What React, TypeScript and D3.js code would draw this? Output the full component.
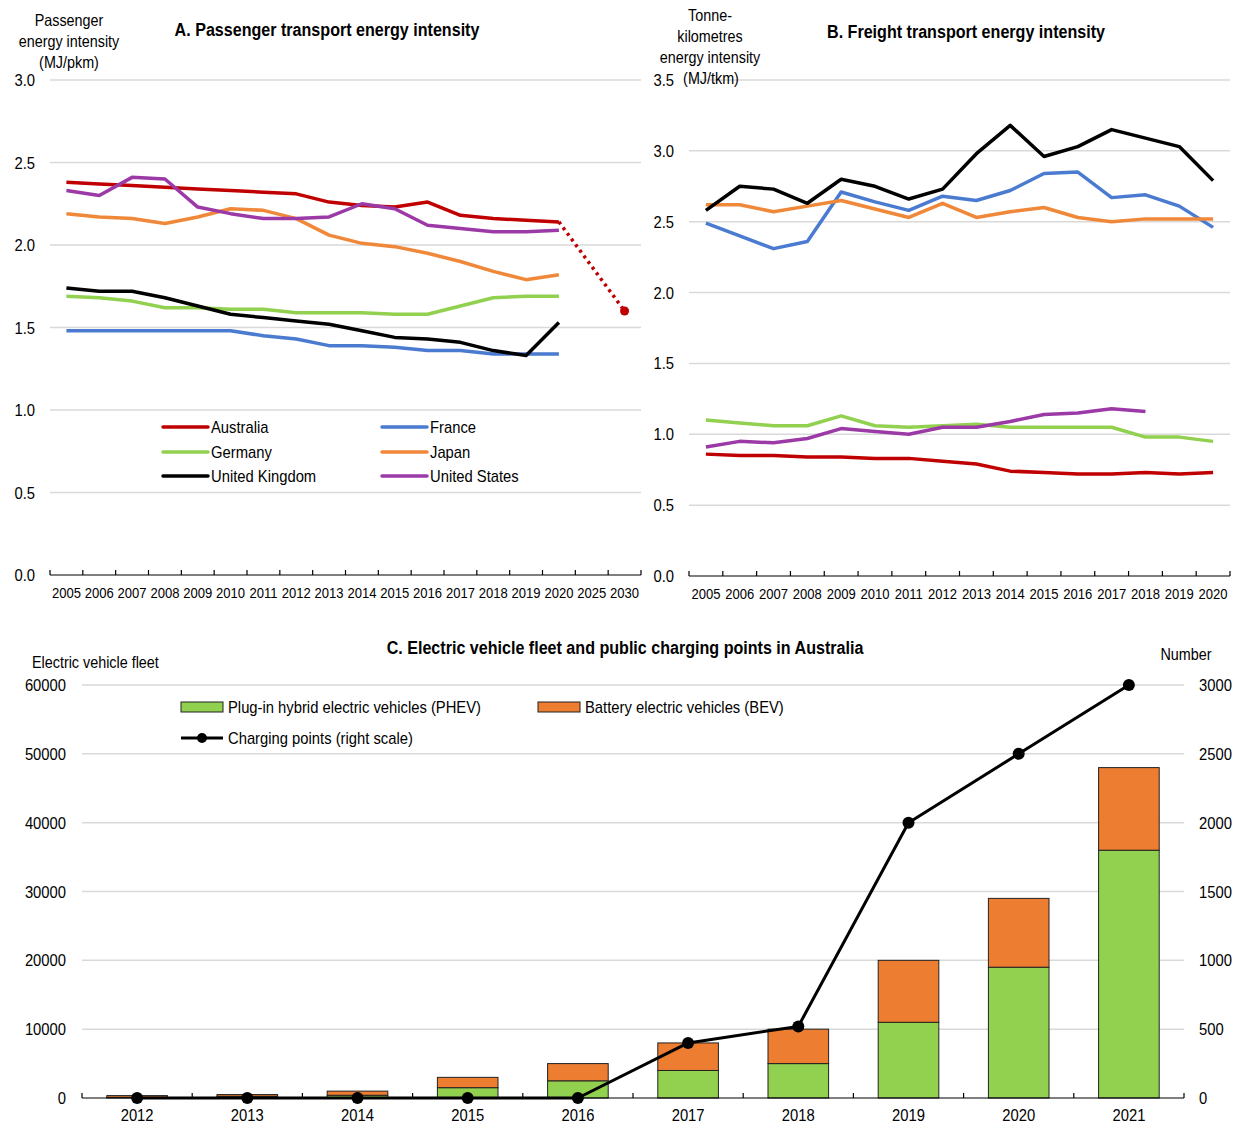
import React from 'react';
import * as d3 from 'd3';

const FONT = '"Liberation Sans", Arial, sans-serif';
const NARROW = 0.87; // horizontal squeeze to imitate a narrow face
const GRID = '#d9d9d9';
const TEXT = '#000';

// Panel A: passenger transport energy intensity (MJ/pkm)
const yearsA = ['2005', '2006', '2007', '2008', '2009', '2010', '2011', '2012', '2013', '2014', '2015', '2016', '2017', '2018', '2019', '2020', '2025', '2030'];
const pAustralia = [2.38, 2.37, 2.36, 2.35, 2.34, 2.33, 2.32, 2.31, 2.26, 2.24, 2.23, 2.26, 2.18, 2.16, 2.15, 2.14];
const pFrance = [1.48, 1.48, 1.48, 1.48, 1.48, 1.48, 1.45, 1.43, 1.39, 1.39, 1.38, 1.36, 1.36, 1.34, 1.34, 1.34];
const pGermany = [1.69, 1.68, 1.66, 1.62, 1.62, 1.61, 1.61, 1.59, 1.59, 1.59, 1.58, 1.58, 1.63, 1.68, 1.69, 1.69];
const pJapan = [2.19, 2.17, 2.16, 2.13, 2.17, 2.22, 2.21, 2.16, 2.06, 2.01, 1.99, 1.95, 1.9, 1.84, 1.79, 1.82];
const pUK = [1.74, 1.72, 1.72, 1.68, 1.63, 1.58, 1.56, 1.54, 1.52, 1.48, 1.44, 1.43, 1.41, 1.36, 1.33, 1.53];
const pUS = [2.33, 2.3, 2.41, 2.4, 2.23, 2.19, 2.16, 2.16, 2.17, 2.25, 2.22, 2.12, 2.1, 2.08, 2.08, 2.09];
const australiaTarget = [{ year: '2020', value: 2.14 }, { year: '2030', value: 1.6 }];
const ticksA = [0, 0.5, 1, 1.5, 2, 2.5, 3];

// Panel B: freight transport energy intensity (MJ/tkm)
const yearsB = ['2005', '2006', '2007', '2008', '2009', '2010', '2011', '2012', '2013', '2014', '2015', '2016', '2017', '2018', '2019', '2020'];
const fAustralia = [0.86, 0.85, 0.85, 0.84, 0.84, 0.83, 0.83, 0.81, 0.79, 0.74, 0.73, 0.72, 0.72, 0.73, 0.72, 0.73];
const fFrance = [2.49, 2.4, 2.31, 2.36, 2.71, 2.64, 2.58, 2.68, 2.65, 2.72, 2.84, 2.85, 2.67, 2.69, 2.61, 2.46];
const fGermany = [1.1, 1.08, 1.06, 1.06, 1.13, 1.06, 1.05, 1.06, 1.07, 1.05, 1.05, 1.05, 1.05, 0.98, 0.98, 0.95];
const fJapan = [2.62, 2.62, 2.57, 2.61, 2.65, 2.59, 2.53, 2.63, 2.53, 2.57, 2.6, 2.53, 2.5, 2.52, 2.52, 2.52];
const fUK = [2.58, 2.75, 2.73, 2.63, 2.8, 2.75, 2.66, 2.73, 2.98, 3.18, 2.96, 3.03, 3.15, 3.09, 3.03, 2.79];
const fUS = [0.91, 0.95, 0.94, 0.97, 1.04, 1.02, 1.0, 1.05, 1.05, 1.09, 1.14, 1.15, 1.18, 1.16];
const ticksB = [0, 0.5, 1, 1.5, 2, 2.5, 3, 3.5];

// Panel C: EV fleet and charging points in Australia
const yearsC = ['2012', '2013', '2014', '2015', '2016', '2017', '2018', '2019', '2020', '2021'];
const phev = [100, 250, 400, 1500, 2500, 4000, 5000, 11000, 19000, 36000];
const bev = [250, 250, 600, 1500, 2500, 4000, 5000, 9000, 10000, 12000];
const chargingPoints = [0, 0, 0, 0, 0, 400, 520, 2000, 2500, 3000];
const ticksCLeft = [0, 10000, 20000, 30000, 40000, 50000, 60000];
const ticksCRight = [0, 500, 1000, 1500, 2000, 2500, 3000];

const countries = [
  { name: 'Australia', color: '#C00000', pass: pAustralia, freight: fAustralia },
  { name: 'France', color: '#4A7BD0', pass: pFrance, freight: fFrance },
  { name: 'Germany', color: '#92D050', pass: pGermany, freight: fGermany },
  { name: 'Japan', color: '#F0883A', pass: pJapan, freight: fJapan },
  { name: 'United Kingdom', color: '#000000', pass: pUK, freight: fUK },
  { name: 'United States', color: '#9B3AA6', pass: pUS, freight: fUS },
];

const GREEN = '#92D050';
const ORANGE = '#ED7D31';

type TxtProps = {
  x: number;
  y: number;
  size: number;
  anchor?: 'start' | 'middle' | 'end';
  bold?: boolean;
  children: React.ReactNode;
};

// narrow text: squeeze horizontally around its own anchor point
function Txt({ x, y, size, anchor = 'start', bold, children }: TxtProps) {
  return (
    <text
      transform={`translate(${x},${y}) scale(${NARROW},1)`}
      textAnchor={anchor}
      fontSize={size}
      fontWeight={bold ? 'bold' : 'normal'}
      fill={TEXT}
    >
      {children}
    </text>
  );
}

function CategoryAxis({ x, y, labels, size = 15 }: { x: d3.ScaleBand<string>; y: number; labels: string[]; size?: number }) {
  const [r0, r1] = x.range();
  const bounds = labels.map((l) => x(l)!);
  bounds.push(r1);
  return (
    <g>
      <line x1={r0} x2={r1} y1={y} y2={y} stroke="#000" strokeWidth={1.2} />
      {bounds.map((b, i) => (
        <line key={i} x1={b} x2={b} y1={y} y2={y - 5} stroke="#000" strokeWidth={1.2} />
      ))}
      {labels.map((l) => (
        <Txt key={l} x={x(l)! + x.bandwidth() / 2} y={y + 23} anchor="middle" size={size}>
          {l}
        </Txt>
      ))}
    </g>
  );
}

export default function App() {
  // Panel A scales
  const xA = d3.scaleBand<string>().domain(yearsA).range([50, 641]);
  const yA = d3.scaleLinear().domain([0, 3]).range([575, 80]);
  const cxA = (yr: string) => xA(yr)! + xA.bandwidth() / 2;
  const lineA = (vals: number[]) =>
    d3.line<number>().x((_, i) => cxA(yearsA[i])).y((v) => yA(v))(vals) ?? '';

  // Panel B scales
  const xB = d3.scaleBand<string>().domain(yearsB).range([689, 1230]);
  const yB = d3.scaleLinear().domain([0, 3.5]).range([576, 80]);
  const cxB = (yr: string) => xB(yr)! + xB.bandwidth() / 2;
  const lineB = (vals: number[]) =>
    d3.line<number>().x((_, i) => cxB(yearsB[i])).y((v) => yB(v))(vals) ?? '';

  // Panel C scales
  const xC = d3.scaleBand<string>().domain(yearsC).range([82, 1184]);
  const barX = d3.scaleBand<string>().domain(yearsC).range([82, 1184]).paddingInner(0.45).paddingOuter(0.225);
  const yC = d3.scaleLinear().domain([0, 60000]).range([1098, 685]);
  const yCR = d3.scaleLinear().domain([0, 3000]).range([1098, 685]);
  const cxC = (yr: string) => xC(yr)! + xC.bandwidth() / 2;
  const chargeLine = d3.line<number>().x((_, i) => cxC(yearsC[i])).y((v) => yCR(v))(chargingPoints) ?? '';
  const targetLine =
    d3.line<{ year: string; value: number }>().x((d) => cxA(d.year)).y((d) => yA(d.value))(australiaTarget) ?? '';

  const legendA = [
    { c: countries[0], x: 163, y: 427 },
    { c: countries[1], x: 382, y: 427 },
    { c: countries[2], x: 163, y: 452 },
    { c: countries[3], x: 382, y: 452 },
    { c: countries[4], x: 163, y: 476 },
    { c: countries[5], x: 382, y: 476 },
  ];

  return (
    <svg
      width={1233}
      height={1128}
      style={{ position: 'absolute', left: 0, top: 0, background: '#fff' }}
      fontFamily={FONT}
    >
      {/* ---------- Panel A ---------- */}
      {ticksA.map((t) => (
        <g key={`ga-${t}`}>
          {t > 0 && <line x1={50} x2={641} y1={yA(t)} y2={yA(t)} stroke={GRID} strokeWidth={1.5} />}
          <Txt x={35} y={yA(t) + 6} anchor="end" size={17}>
            {t.toFixed(1)}
          </Txt>
        </g>
      ))}
      <Txt x={327} y={36} anchor="middle" size={18.5} bold>
        A. Passenger transport energy intensity
      </Txt>
      {['Passenger', 'energy intensity', '(MJ/pkm)'].map((s, i) => (
        <Txt key={s} x={69} y={26 + i * 21} anchor="middle" size={16.5}>
          {s}
        </Txt>
      ))}
      <CategoryAxis x={xA} y={575} labels={yearsA} />
      {countries.map((c) => (
        <path key={`la-${c.name}`} d={lineA(c.pass)} fill="none" stroke={c.color} strokeWidth={3.5} strokeLinejoin="round" />
      ))}
      <path d={targetLine} fill="none" stroke="#C00000" strokeWidth={3.5} strokeDasharray="3 4" />
      <circle cx={cxA('2030')} cy={yA(1.6)} r={4.5} fill="#C00000" />
      {legendA.map(({ c, x, y }) => (
        <g key={`lg-${c.name}`}>
          <line x1={x} x2={x + 45} y1={y} y2={y} stroke={c.color} strokeWidth={3.5} strokeLinecap="round" />
          <Txt x={x + 48} y={y + 6} size={17}>
            {c.name}
          </Txt>
        </g>
      ))}

      {/* ---------- Panel B ---------- */}
      {ticksB.map((t) => (
        <g key={`gb-${t}`}>
          {t > 0 && <line x1={689} x2={1230} y1={yB(t)} y2={yB(t)} stroke={GRID} strokeWidth={1.5} />}
          <Txt x={674} y={yB(t) + 6} anchor="end" size={17}>
            {t.toFixed(1)}
          </Txt>
        </g>
      ))}
      <Txt x={966} y={38} anchor="middle" size={18.5} bold>
        B. Freight transport energy intensity
      </Txt>
      {['Tonne-', 'kilometres', 'energy intensity'].map((s, i) => (
        <Txt key={s} x={710} y={21 + i * 21} anchor="middle" size={16.5}>
          {s}
        </Txt>
      ))}
      <Txt x={711} y={84} anchor="middle" size={16.5}>
        (MJ/tkm)
      </Txt>
      <CategoryAxis x={xB} y={576} labels={yearsB} />
      {countries.map((c) => (
        <path key={`lb-${c.name}`} d={lineB(c.freight)} fill="none" stroke={c.color} strokeWidth={3.5} strokeLinejoin="round" />
      ))}

      {/* ---------- Panel C ---------- */}
      {ticksCLeft.map((t) => (
        <g key={`gc-${t}`}>
          {t > 0 && <line x1={82} x2={1184} y1={yC(t)} y2={yC(t)} stroke={GRID} strokeWidth={1.5} />}
          <Txt x={66} y={yC(t) + 6} anchor="end" size={17}>
            {t}
          </Txt>
        </g>
      ))}
      {ticksCRight.map((t) => (
        <Txt key={`rc-${t}`} x={1199} y={yCR(t) + 6} size={17}>
          {t}
        </Txt>
      ))}
      <Txt x={625} y={654} anchor="middle" size={18.5} bold>
        C. Electric vehicle fleet and public charging points in Australia
      </Txt>
      <Txt x={32} y={668} size={16.5}>
        Electric vehicle fleet
      </Txt>
      <Txt x={1186} y={660} anchor="middle" size={16.5}>
        Number
      </Txt>
      {yearsC.map((yr, i) => (
        <g key={`bar-${yr}`}>
          <rect
            x={barX(yr)}
            y={yC(phev[i])}
            width={barX.bandwidth()}
            height={yC(0) - yC(phev[i])}
            fill={GREEN}
            stroke="#222"
            strokeWidth={1}
          />
          <rect
            x={barX(yr)}
            y={yC(phev[i] + bev[i])}
            width={barX.bandwidth()}
            height={yC(phev[i]) - yC(phev[i] + bev[i])}
            fill={ORANGE}
            stroke="#222"
            strokeWidth={1}
          />
        </g>
      ))}
      <CategoryAxis x={xC} y={1098} labels={yearsC} size={17} />
      <path d={chargeLine} fill="none" stroke="#000" strokeWidth={3} strokeLinejoin="round" />
      {chargingPoints.map((v, i) => (
        <circle key={`cp-${i}`} cx={cxC(yearsC[i])} cy={yCR(v)} r={6} fill="#000" />
      ))}
      {/* legend C */}
      <rect x={181} y={702} width={42} height={10} fill={GREEN} stroke="#222" strokeWidth={1} />
      <Txt x={228} y={713} size={17}>
        Plug-in hybrid electric vehicles (PHEV)
      </Txt>
      <rect x={538} y={702} width={42} height={10} fill={ORANGE} stroke="#222" strokeWidth={1} />
      <Txt x={585} y={713} size={17}>
        Battery electric vehicles (BEV)
      </Txt>
      <line x1={181} x2={223} y1={738} y2={738} stroke="#000" strokeWidth={3} />
      <circle cx={202} cy={738} r={5} fill="#000" />
      <Txt x={228} y={744} size={17}>
        Charging points (right scale)
      </Txt>
    </svg>
  );
}
